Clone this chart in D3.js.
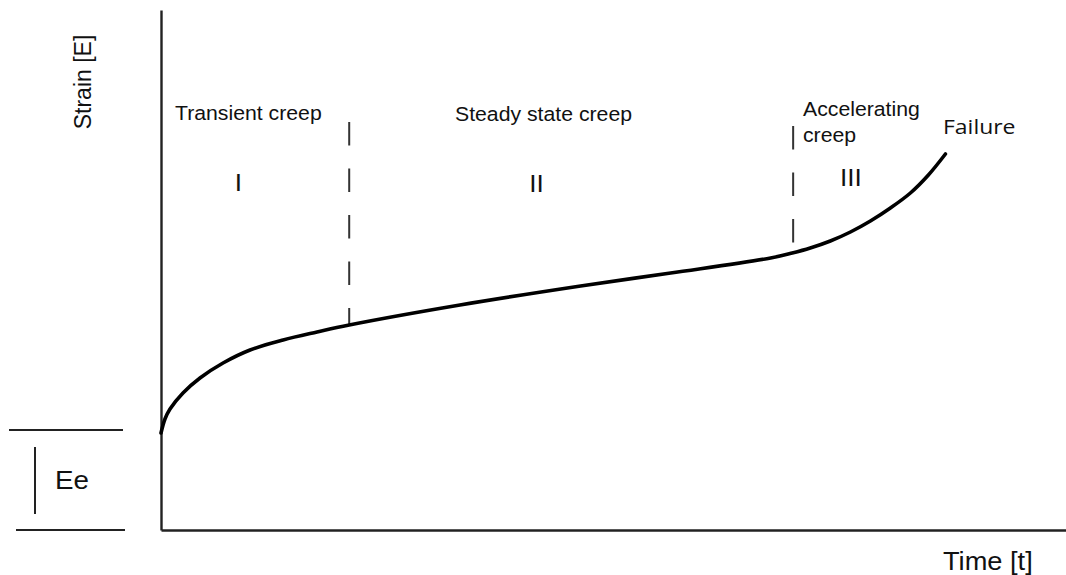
<!DOCTYPE html>
<html>
<head>
<meta charset="utf-8">
<script src="https://cdn.jsdelivr.net/npm/d3@7"></script>
<style>
  html, body { margin: 0; padding: 0; background: #fff; }
  svg { display: block; }
  text { font-family: "Liberation Sans", Arial, sans-serif; fill: #111; }
</style>
</head>
<body>
<svg id="chart" width="1066" height="575"></svg>
<script>
// ---- data ----
const time   = [0, 0.44, 1.0, 2.44, 4.33, 6.89, 9.89, 13.56, 17.33, 20.9, 33.2, 46.6, 56.6, 67.7, 70.1, 72.1, 74.33, 76.56, 78.78, 81.0, 83.22, 85.22, 87.11];
const strain = [19.4, 22.2, 24.2, 27.4, 30.4, 33.4, 36, 38, 39.6, 41, 45, 48.8, 51.4, 54.4, 55.4, 56.4, 57.8, 59.6, 61.8, 64.4, 67.4, 71.0, 75.2];
const phaseBounds = [20.9, 70.2];          // time of the boundaries between stages
const phaseTop    = [81.6, 80.8];          // strain where each dashed boundary starts
const phaseEnd    = [41, 57.2];            // strain where each dashed boundary stops
const elasticStrain = 20;                  // Ee
const stageNames  = ["Transient creep", "Steady state creep", ["Accelerating", "creep"]];
const stageNums   = ["I", "II", "III"];
const stageNumT   = [8.6, 41.7, 76.6];
const axisLabels  = { x: "Time [t]", y: "Strain [E]" };

// ---- layout ----
const svg = d3.select("#chart");
const x = d3.scaleLinear().domain([0, 100.5]).range([161, 1066]);
const y = d3.scaleLinear().domain([0, 104]).range([530, 10]);
const SX = 1.09; // horizontal stretch of the original picture

// axes (no ticks)
svg.append("g").attr("transform", `translate(${x(0)},0)`)
  .call(d3.axisLeft(y).tickValues([]).tickSizeOuter(0));
svg.append("g").attr("transform", `translate(0,${y(0)})`)
  .call(d3.axisBottom(x).tickValues([]).tickSizeOuter(0));
svg.selectAll(".domain").attr("stroke", "#222").attr("stroke-width", 2.4);

// dashed stage boundaries
phaseBounds.forEach((t, i) => {
  svg.append("line")
    .attr("x1", x(t)).attr("x2", x(t))
    .attr("y1", y(phaseTop[i])).attr("y2", y(phaseEnd[i]))
    .attr("stroke", "#333").attr("stroke-width", 2)
    .attr("stroke-dasharray", "23.5,23");
});

// creep curve
const pts = time.map((t, i) => [t, strain[i]]);
svg.append("path")
  .datum(pts)
  .attr("fill", "none")
  .attr("stroke", "#000")
  .attr("stroke-width", 3.6)
  .attr("stroke-linecap", "round")
  .attr("d", d3.line().x(d => x(d[0])).y(d => y(d[1])).curve(d3.curveCatmullRom.alpha(0.5)));

// elastic strain marker
svg.append("line").attr("x1", 9).attr("x2", 123).attr("y1", y(elasticStrain)).attr("y2", y(elasticStrain))
  .attr("stroke", "#222").attr("stroke-width", 1.8);
svg.append("line").attr("x1", 16).attr("x2", 125).attr("y1", y(0)).attr("y2", y(0))
  .attr("stroke", "#222").attr("stroke-width", 1.8);
svg.append("line").attr("x1", 35).attr("x2", 35).attr("y1", y(elasticStrain * 0.83)).attr("y2", y(elasticStrain * 0.16))
  .attr("stroke", "#222").attr("stroke-width", 2);

function txt(str, px, py, size, opts = {}) {
  const t = svg.append("text")
    .attr("transform", `translate(${px},${py}) scale(${opts.sx || SX},1)`)
    .attr("font-size", size)
    .attr("text-anchor", opts.anchor || "start")
    .text(str);
  if (opts.family) t.style("font-family", opts.family);
  return t;
}

txt("Ee", 55, 489, 25.5);

// stage names
txt(stageNames[0], 175, 120, 19.5);
txt(stageNames[1], 455, 120.5, 19.5);
txt(stageNames[2][0], 803, 116, 19.5);
txt(stageNames[2][1], 803, 142, 19.5);

// stage numerals
stageNums.forEach((s, i) => {
  txt(s, x(stageNumT[i]), [191, 192, 186][i], 24, { anchor: "middle" });
});

// failure
txt("Failure", 943, 134, 20.5, { family: "'Open Sans', sans-serif", sx: 1.12 });

// axis labels
txt(axisLabels.x, 943, 570, 25);
svg.append("text")
  .attr("transform", `translate(91,82) rotate(-90)`)
  .attr("font-size", 23)
  .attr("text-anchor", "middle")
  .text(axisLabels.y);
</script>
</body>
</html>
